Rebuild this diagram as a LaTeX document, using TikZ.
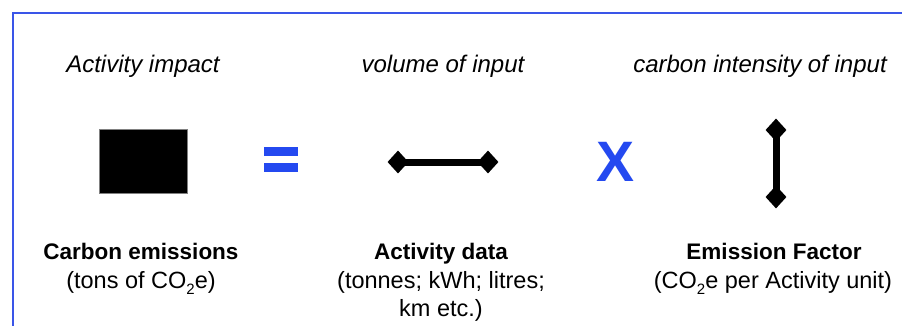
\documentclass[tikz,border=0pt]{standalone}
\usepackage{fontspec}
\setmainfont{Liberation Sans}
\usetikzlibrary{shapes.geometric}
\definecolor{frameblue}{HTML}{3A55E8}
\definecolor{opblue}{HTML}{2449F0}
\newcommand{\mysubtwo}{\raisebox{-0.28em}{\fontsize{15}{15}\selectfont 2}}
\tikzset{
  toplabel/.style={anchor=base, inner sep=0pt, font=\fontsize{24}{28}\selectfont\itshape},
  boldlabel/.style={anchor=base, inner sep=0pt, font=\fontsize{22.5}{27}\selectfont\bfseries},
  sublabel/.style={anchor=base, inner sep=0pt, font=\fontsize{23.5}{28}\selectfont},
  tip/.style={diamond, fill=black, inner sep=0pt, minimum width=21pt, minimum height=23pt},
  bar/.style={line width=7pt},
  eqbar/.style={fill=opblue, draw=none}
}
\begin{document}
\begin{tikzpicture}[x=1pt,y=-1pt]
\useasboundingbox (0,0) rectangle (902,326);
\fill[white] (0,0) rectangle (902,326);
% frame
\coordinate (fr) at (903,13);
\coordinate (fc) at (13,13);
\coordinate (fb) at (13,327);
\draw[frameblue, line width=1.6pt] (fr) -- (fc) -- (fb);
% top labels
\node[toplabel] (t1) at (143,73) {Activity impact};
\node[toplabel] (t2) at (443,73) {volume of input};
\node[toplabel] (t3) at (760,73) {carbon intensity of input};
% black box
\node[fill=black, draw=black!50, line width=0.6pt, minimum width=88pt, minimum height=64pt, inner sep=0pt] (box) at (143,161) {};
% equals
\fill[eqbar] (264,147) rectangle (298,156);
\fill[eqbar] (264,163) rectangle (298,172);
% horizontal dumbbell
\node[tip] (hl) at (398,162) {};
\node[tip] (hr) at (488,162) {};
\draw[bar] (hl.center) -- (hr.center);
% X
\node[inner sep=0pt, text=opblue, font=\fontsize{57}{60}\selectfont\bfseries] (times) at (616,162) {X};
% vertical dumbbell
\node[tip] (vt) at (776,130) {};
\node[tip] (vb) at (776,197) {};
\draw[bar] (vt.center) -- (vb.center);
% bottom labels
\node[boldlabel] (b1) at (141,259) {Carbon emissions};
\node[sublabel] (s1) at (141,288) {(tons of CO\mysubtwo e)};
\node[boldlabel] (b2) at (441,259) {Activity data};
\node[sublabel] (s2) at (441,288) {(tonnes; kWh; litres;};
\node[sublabel] (s2b) at (441,316) {km etc.)};
\node[boldlabel] (b3) at (774,259) {Emission Factor};
\node[sublabel] (s3) at (773,288) {(CO\mysubtwo e per Activity unit)};
\end{tikzpicture}
\end{document}
